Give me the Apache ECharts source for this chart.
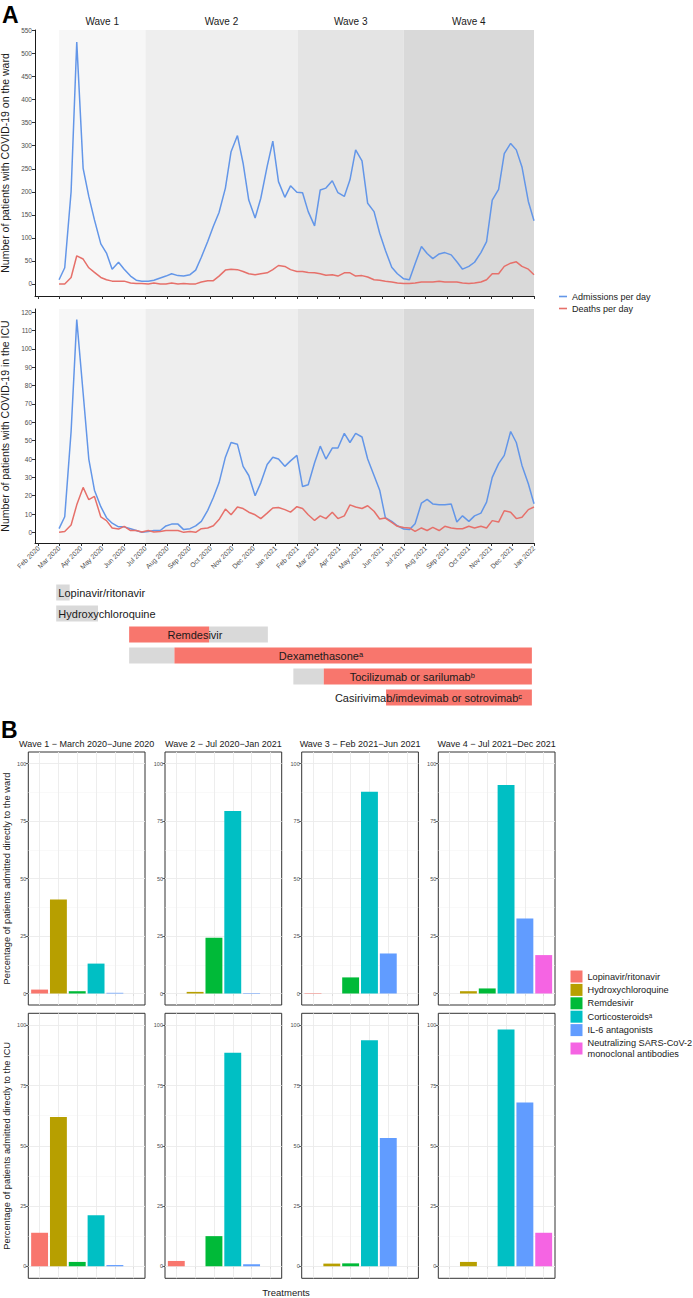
<!DOCTYPE html>
<html><head><meta charset="utf-8">
<script src="https://cdn.jsdelivr.net/npm/echarts@6/dist/echarts.min.js"></script>
<style>html,body{margin:0;padding:0;background:#fff}#c{width:693px;height:1298px}</style>
</head><body><div id="c"></div>
<script>
// ---------- DATA ----------
// observation days, counted in days since 2020-02-01
const obsDay = [29,37,46,54,63,71,79,88,96,104,113,121,130,138,146,155,163,172,180,188,197,205,214,222,230,239,247,255,264,272,281,289,297,306,314,323,331,339,348,356,365,373,381,390,398,406,415,423,432,440,448,457,465,474,482,490,499,507,516,524,532,541,549,557,566,574,583,591,599,608,616,625,633,641,650,658,667,675,683,692,700];
const wardAdmissions = [9,35,200,525,251,190,139,87,67,32,47,32,17,8,6,6,8,13,17,22,18,17,20,30,58,92,125,155,208,287,322,262,182,143,186,255,310,222,188,
  213,199,198,157,126,204,208,224,198,190,226,291,267,175,157,110,73,36,22,11,9,44,81,66,55,65,68,63,48,32,38,47,68,92,182,205,283,305,291,254,179,137];
const wardDeaths = [0,0,14,61,54,35,25,14,9,6,6,6,2,1,1,0,2,0,0,2,0,1,0,0,4,7,7,17,30,32,31,27,22,20,22,24,31,40,38,
  31,27,27,25,24,22,19,20,17,24,24,17,18,15,9,8,6,4,2,1,1,2,4,4,4,6,4,4,4,2,1,2,4,9,22,22,38,45,48,38,32,20];
const icuAdmissions = [2,8.5,55,116,76,40,23,14,8,5,3,3,2,1,0,0.5,1,1,3.5,4.5,4.5,1.5,2,3.5,6,12,19,27,41,49,48,36,31,20,27,37,41,40,36,
  39,42,25,26,38,47,40,46,46,54,49,54,52,40,31,23,8,6,3.6,1.8,1.5,4.7,16,18,15.5,15,15,15.5,5.6,9,6,9,10.5,16.5,30,37.5,42,55,49,36.5,26.5,15.6];
const icuDeaths = [0,0.5,4,15,24.5,17.8,19.6,8.4,6.4,2.4,1.8,3.3,1,1,0.2,1,0.2,0.5,1,1,1,0,0.5,0,2,2.4,3.6,7,12.7,9.6,13.8,13,11,9.6,7.5,10.5,13.3,13.6,12.4,
  11,14,13,9.6,6.5,9,7.5,11,7.5,9,15,13.8,13,14.5,11.5,7.3,7.8,5.5,3.3,2.7,2.4,0.5,2.4,1,2.7,1,3.3,2.4,2,2,3.3,2.4,3.3,2.4,6.4,5.6,11.8,11,7.5,8.2,12.4,13.8];

const monthDates = ['2020-02-01','2020-03-01','2020-04-01','2020-05-01','2020-06-01','2020-07-01','2020-08-01','2020-09-01','2020-10-01','2020-11-01','2020-12-01','2021-01-01',
  '2021-02-01','2021-03-01','2021-04-01','2021-05-01','2021-06-01','2021-07-01','2021-08-01','2021-09-01','2021-10-01','2021-11-01','2021-12-01','2022-01-01'];
const monthLabels = ['Feb 2020','Mar 2020','Apr 2020','May 2020','Jun 2020','Jul 2020','Aug 2020','Sep 2020','Oct 2020','Nov 2020','Dec 2020','Jan 2021',
  'Feb 2021','Mar 2021','Apr 2021','May 2021','Jun 2021','Jul 2021','Aug 2021','Sep 2021','Oct 2021','Nov 2021','Dec 2021','Jan 2022'];
const wardTicks = [0,50,100,150,200,250,300,350,400,450,500,550];
const icuTicks = [0,10,20,30,40,50,60,70,80,90,100,110,120];

const waveNames = ['Wave 1','Wave 2','Wave 3','Wave 4'];
const waveStart = ['2020-03-01','2020-07-01','2021-02-01','2021-07-01'];
const waveEnd   = ['2020-07-01','2021-02-01','2021-07-01','2022-01-01'];

const treatmentRows = ['Lopinavir/ritonavir','Hydroxychloroquine','Remdesivir','Dexamethasone\u1d43','Tocilizumab or sarilumab\u1d47','Casirivimab/imdevimab or sotrovimab\u1d9c'];
const greyStart = ['2020-02-26','2020-02-26','2020-09-29','2020-06-08','2021-01-26',null];
const greyEnd   = ['2020-03-16','2020-04-25','2020-12-21','2020-08-11','2021-03-10',null];
const redStart  = [null,null,'2020-06-08','2020-08-11','2021-03-10','2021-06-06'];
const redEnd    = [null,null,'2020-09-29','2021-12-29','2021-12-29','2021-12-29'];
const labelDate = ['2020-02-29','2020-02-29','2020-09-09','2021-03-06','2021-07-13','2021-08-05'];
const labelAlign = ['left','left','center','center','center','center'];

const treatments = ['Lopinavir/ritonavir','Hydroxychloroquine','Remdesivir','Corticosteroids\u1d43','IL-6 antagonists','Neutralizing SARS-CoV-2 monoclonal antibodies'];
const waveTitles = ['Wave 1 \u2212 March 2020\u2212June 2020','Wave 2 \u2212 Jul 2020\u2212Jan 2021','Wave 3 \u2212 Feb 2021\u2212Jun 2021','Wave 4 \u2212 Jul 2021\u2212Dec 2021'];
const wardPctWave1 = [1.7,40.9,1.0,13.0,0.3,0];
const wardPctWave2 = [0,0.7,24.2,79.3,0.2,0];
const wardPctWave3 = [0.2,0,7.0,87.7,17.4,0];
const wardPctWave4 = [0,1.0,2.2,90.6,32.6,16.7];
const icuPctWave1 = [13.9,62.0,1.8,21.2,0.5,0];
const icuPctWave2 = [2.2,0,12.5,88.6,0.8,0];
const icuPctWave3 = [0,1.1,1.2,93.8,53.2,0];
const icuPctWave4 = [0,1.8,0,98.3,68.0,13.9];
const pctTicks = [0,25,50,75,100];

// ---------- BUILD ----------
const fam = '"Liberation Sans", Arial, Helvetica, sans-serif';
function dayOf(s){const p=s.split('-').map(Number);return Math.round((Date.UTC(p[0],p[1]-1,p[2])-Date.UTC(2020,1,1))/86400000);}
const monthDays = monthDates.map(dayOf);
const BLUE = '#6396E8', RED = '#E6706A';
const bandColors = ['#f7f7f7','#eeeeee','#e4e4e4','#d9d9d9'];
const barColors = ['#F8766D','#B79F00','#00BA38','#00BFC4','#619CFF','#F564E3'];
const X0 = 35, XW = 499;
const NB = {outerBoundsMode:'none', containLabel:false};

const grid = [
  Object.assign({left:X0, top:30, width:XW, height:266}, NB),
  Object.assign({left:X0, top:309, width:XW, height:234}, NB),
  Object.assign({left:X0, top:582, width:XW, height:126}, NB)
];
const xAxis = [], yAxis = [], series = [];
const tickStyle = {lineStyle:{color:'#333', width:1}};

function bandArea(withLabel){
  return {silent:true, z:1,
    label:{show:withLabel, position:'top', distance:4, fontSize:10, color:'#1a1a1a', fontFamily:fam},
    data: waveNames.map((w,i)=>[{name:w, xAxis:dayOf(waveStart[i]), itemStyle:{color:bandColors[i]}},{xAxis:dayOf(waveEnd[i])}])};
}
// panel A axes
[0,1].forEach(g=>{
  xAxis.push({type:'value', gridIndex:g, min:-5, max:700, splitLine:{show:false},
    axisLine:{show:true, onZero:false, lineStyle:{color:'#1a1a1a', width:1}},
    axisTick:{show:true, customValues:monthDays, length:3, ...tickStyle},
    axisLabel: g===1 ? {show:true, customValues:monthDays, rotate:45, fontSize:6.8, color:'#4d4d4d', margin:4, fontFamily:fam,
      formatter:v=>{const i=monthDays.indexOf(Math.round(v));return i>=0?monthLabels[i]:'';}} : {show:false}});
  const ticks = g===0 ? wardTicks : icuTicks;
  yAxis.push({type:'value', gridIndex:g, min: g===0?-26.25:-5.8, max: g===0?551.25:121.8, splitLine:{show:false},
    axisLine:{show:true, onZero:false, lineStyle:{color:'#1a1a1a', width:1}},
    axisTick:{show:true, customValues:ticks, length:3, ...tickStyle},
    axisLabel:{show:true, customValues:ticks, fontSize:6.5, color:'#4d4d4d', margin:3, fontFamily:fam},
    name: g===0 ? 'Number of patients with COVID-19 on the ward' : 'Number of patients with COVID-19 in the ICU',
    nameLocation:'middle', nameGap:20, nameTextStyle:{fontSize:10.5, color:'#1a1a1a', fontFamily:fam}});
});
series.push({type:'line', name:'Admissions per day', xAxisIndex:0, yAxisIndex:0, symbol:'none', z:3, silent:true,
  lineStyle:{color:BLUE, width:1.5}, itemStyle:{color:BLUE}, data: obsDay.map((d,i)=>[d,wardAdmissions[i]]), markArea: bandArea(true)});
series.push({type:'line', name:'Deaths per day', xAxisIndex:0, yAxisIndex:0, symbol:'none', z:3, silent:true,
  lineStyle:{color:RED, width:1.5}, itemStyle:{color:RED}, data: obsDay.map((d,i)=>[d,wardDeaths[i]])});
series.push({type:'line', name:'Admissions per day', xAxisIndex:1, yAxisIndex:1, symbol:'none', z:3, silent:true,
  lineStyle:{color:BLUE, width:1.5}, itemStyle:{color:BLUE}, data: obsDay.map((d,i)=>[d,icuAdmissions[i]]), markArea: bandArea(false)});
series.push({type:'line', name:'Deaths per day', xAxisIndex:1, yAxisIndex:1, symbol:'none', z:3, silent:true,
  lineStyle:{color:RED, width:1.5}, itemStyle:{color:RED}, data: obsDay.map((d,i)=>[d,icuDeaths[i]])});

// timeline
xAxis.push({type:'value', gridIndex:2, min:-5, max:700, show:false});
yAxis.push({type:'category', gridIndex:2, data:treatmentRows, inverse:true, show:false});
const segs = [];
treatmentRows.forEach((n,i)=>{
  if (greyStart[i]) segs.push({value:[dayOf(greyStart[i]), dayOf(greyEnd[i]), i], itemStyle:{color:'#d9d9d9'}});
  if (redStart[i]) segs.push({value:[dayOf(redStart[i]), dayOf(redEnd[i]), i], itemStyle:{color:'#F8766D'}});
});
series.push({type:'custom', xAxisIndex:2, yAxisIndex:2, silent:true, z:2, data:segs, encode:{x:[0,1], y:2},
  renderItem:(params, api)=>{const y=api.value(2);const s=api.coord([api.value(0),y]);const e=api.coord([api.value(1),y]);const h=16;
    return {type:'rect', shape:{x:s[0], y:s[1]-h/2, width:e[0]-s[0], height:h}, style:{fill:api.visual('color')}};}});
series.push({type:'custom', xAxisIndex:2, yAxisIndex:2, silent:true, z:3,
  data: treatmentRows.map((n,i)=>({name:n, value:[dayOf(labelDate[i]), i]})), encode:{x:0, y:1},
  renderItem:(params, api)=>{const p=api.coord([api.value(0),api.value(1)]);const i=params.dataIndex;
    return {type:'text', x:p[0], y:p[1], style:{text:treatmentRows[i], align:labelAlign[i], verticalAlign:'middle', fontSize:11, fontFamily:fam, fill:'#1a1a1a'}};}});

// panel B
const colLeft = [28.3, 165, 301.7, 438.3], PW = 116.7;
const rowTop = [752, 1013.3], rowH = [253, 265];
const pctRows = [[wardPctWave1,wardPctWave2,wardPctWave3,wardPctWave4],[icuPctWave1,icuPctWave2,icuPctWave3,icuPctWave4]];
const gridMarks = [];
pctTicks.forEach(v=>gridMarks.push({yAxis:v, lineStyle:{color:'#ebebeb', width:0.9, type:'solid'}}));
[12.5,37.5,62.5,87.5].forEach(v=>gridMarks.push({yAxis:v, lineStyle:{color:'#f2f2f2', width:0.5, type:'solid'}}));
[1,2,3,4,5,6].forEach(v=>gridMarks.push({xAxis:v, lineStyle:{color:'#ebebeb', width:0.9, type:'solid'}}));
for (let r=0;r<2;r++) for (let c=0;c<4;c++){
  const g = grid.length;
  grid.push(Object.assign({left:colLeft[c], top:rowTop[r], width:PW, height:rowH[r], show:true, borderColor:'#333', borderWidth:1, backgroundColor:'#fff'}, NB));
  xAxis.push({type:'value', gridIndex:g, min:0.4, max:6.6, splitLine:{show:false}, axisLine:{show:false},
    axisTick:{show:true, customValues:[1,2,3,4,5,6], length:2.5, lineStyle:{color:'#333', width:0.8}}, axisLabel:{show:false}});
  yAxis.push({type:'value', gridIndex:g, min:-5, max:105, splitLine:{show:false}, axisLine:{show:false},
    axisTick:{show:true, customValues:pctTicks, length:2.5, lineStyle:{color:'#333', width:0.8}},
    axisLabel:{show:true, customValues:pctTicks, fontSize:5.5, color:'#4d4d4d', margin:2, fontFamily:fam},
    name: c===0 ? (r===0 ? 'Percentage of patients admitted directly to the ward' : 'Percentage of patients admitted directly to the ICU') : '',
    nameLocation:'middle', nameGap:17, nameTextStyle:{fontSize:9.3, color:'#1a1a1a', fontFamily:fam}});
  const vals = pctRows[r][c];
  treatments.forEach((t,k)=>{
    const s = {type:'bar', name:t, xAxisIndex:g, yAxisIndex:g, barWidth:16.9, barGap:'-100%', z:2, silent:true,
      itemStyle:{color:barColors[k]}, data:[[k+1, vals[k]]]};
    if (k===0) s.markLine = {silent:true, z:1, symbol:['none','none'], label:{show:false}, animation:false, data:gridMarks};
    series.push(s);
  });
}

const option = {
  animation:false,
  backgroundColor:'#fff',
  textStyle:{fontFamily:fam},
  grid, xAxis, yAxis, series,
  legend:[
    {data:['Admissions per day','Deaths per day'], orient:'vertical', left:559, top:292, padding:0, icon:'rect', itemWidth:8, itemHeight:1.6, itemGap:3,
     selectedMode:false, textStyle:{fontSize:9, color:'#1a1a1a', fontFamily:fam}},
    {data:treatments, orient:'vertical', left:570.5, top:970.5, padding:0, icon:'rect', itemWidth:12, itemHeight:12, itemGap:1.4,
     selectedMode:false, textStyle:{fontSize:9.2, color:'#1a1a1a', fontFamily:fam, lineHeight:11},
     formatter:n=> n.indexOf('Neutralizing')===0 ? 'Neutralizing SARS-CoV-2\nmonoclonal antibodies' : n}
  ],
  graphic:[
    {type:'text', x:2, y:3, style:{text:'A', fontSize:23, fontWeight:'bold', fontFamily:fam, fill:'#000'}},
    {type:'text', x:1, y:718, style:{text:'B', fontSize:23, fontWeight:'bold', fontFamily:fam, fill:'#000'}},
    {type:'text', x:286, y:1292, style:{text:'Treatments', fontSize:9.5, fontFamily:fam, fill:'#1a1a1a', align:'center', verticalAlign:'middle'}}
  ].concat(waveTitles.map((t,c)=>({type:'text', x:colLeft[c]+PW/2, y:743.5, style:{text:t, fontSize:9, fontFamily:fam, fill:'#1a1a1a', align:'center', verticalAlign:'middle'}})))
};
const chart = echarts.init(document.getElementById('c'), null, {renderer:'svg', width:693, height:1298});
chart.setOption(option);
</script></body></html>
